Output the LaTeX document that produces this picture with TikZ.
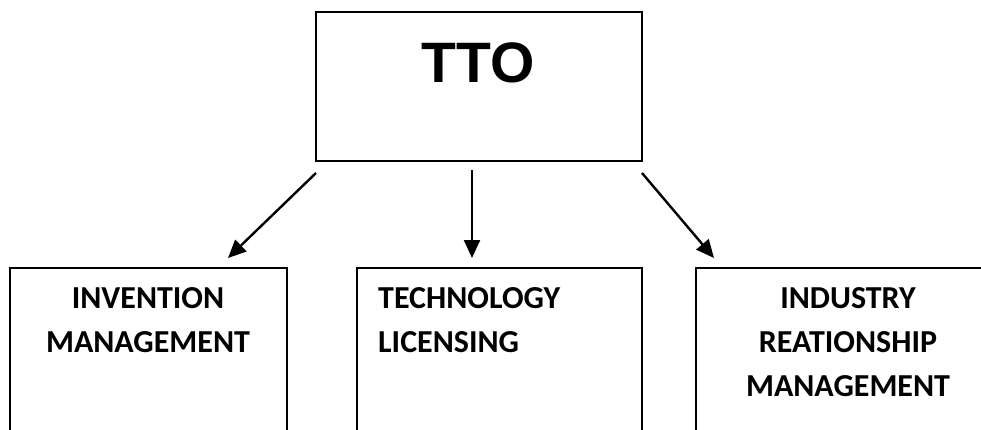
\documentclass[tikz,border=0pt]{standalone}
\usepackage{fontspec}
\setmainfont{Carlito}
\newfontfamily\ttofont{Liberation Sans}
\usetikzlibrary{arrows.meta}
\begin{document}
\begin{tikzpicture}[x=1pt,y=-1pt,
  boxline/.style={draw=black,line width=2pt},
  lbl/.style={font=\bfseries\fontsize{32}{44}\selectfont,inner sep=0pt},
  arr/.style={line width=2.4pt,-{Triangle[length=18pt,width=16pt]}}]
\useasboundingbox (0,0) rectangle (981,430);
\clip (0,0) rectangle (981,430);
\node[boxline,minimum width=326pt,minimum height=149pt,inner sep=0pt] (tto) at (478.5,87) {};
\node[font=\ttofont\bfseries\fontsize{57}{60}\selectfont,inner sep=0pt] (ttol) at (478,63) {TTO};
\draw[boxline] (9.5,440) -- (9.5,268) -- (287,268) -- (287,440);
\draw[boxline] (357,440) -- (357,268) -- (642,268) -- (642,440);
\draw[boxline] (696,440) -- (696,268) -- (990,268);
\node[lbl,align=center,anchor=north] (inv) at (148,287) {INVENTION\\MANAGEMENT};
\node[lbl,align=left,anchor=north west] (tech) at (378,287) {TECHNOLOGY\\LICENSING};
\node[lbl,align=center,anchor=north] (ind) at (848,287) {INDUSTRY\\REATIONSHIP\\MANAGEMENT};
\coordinate (a1s) at (316,173); \coordinate (a1e) at (228,258);
\coordinate (a2s) at (472,170); \coordinate (a2e) at (472,258);
\coordinate (a3s) at (642,173); \coordinate (a3e) at (714,258);
\draw[arr] (a1s) -- (a1e);
\draw[arr] (a2s) -- (a2e);
\draw[arr] (a3s) -- (a3e);
\end{tikzpicture}
\end{document}
